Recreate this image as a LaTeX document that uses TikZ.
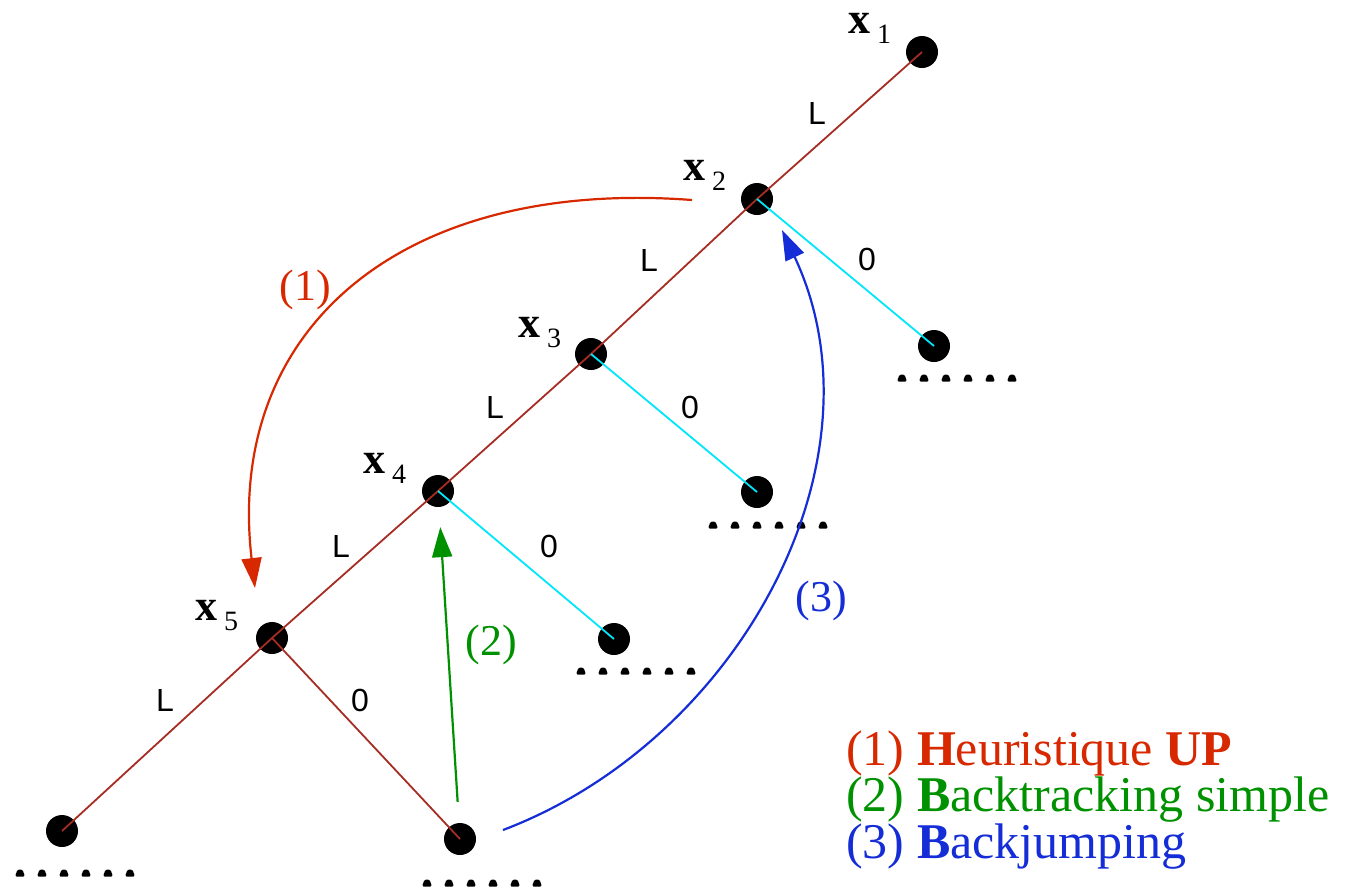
\documentclass[tikz,border=0pt]{standalone}
\usepackage{fontspec}
\setmainfont{Liberation Serif}
\newfontfamily\lblfont{Liberation Sans}
\usetikzlibrary{arrows.meta}
\definecolor{edgebrown}{RGB}{165,45,35}
\definecolor{edgecyan}{RGB}{0,230,250}
\definecolor{arrred}{RGB}{215,40,0}
\definecolor{arrgreen}{RGB}{0,145,0}
\definecolor{arrblue}{RGB}{20,45,215}
\newcommand{\varlab}[1]{\fontsize{44}{44}\selectfont\textbf{x}\hspace{7pt}\raisebox{-10pt}{\fontsize{28}{28}\selectfont #1}}
\begin{document}
\begin{tikzpicture}[x=1pt,y=-1pt,
  dot/.style={circle,fill=black,minimum size=32pt,inner sep=0pt},
  lline/.style={draw=edgebrown,line width=1.8pt},
  zline/.style={draw=edgecyan,line width=1.8pt},
  elab/.style={font=\lblfont\fontsize{32}{32}\selectfont,inner sep=0pt},
  vlab/.style={anchor=base west,inner sep=0pt},
  alab/.style={font=\fontsize{44}{44}\selectfont,inner sep=0pt},
  leg/.style={anchor=base west,inner sep=0pt,align=left,font=\fontsize{50}{42.5}\selectfont},
  arr/.style={line width=2.2pt,-{Triangle[length=30pt,width=20pt]}}]
\useasboundingbox (0,0) rectangle (1362,887);
\fill[white] (0,0) rectangle (1362,887);

% tree nodes
\node[dot] (n1) at (922,52) {};
\node[dot] (n2) at (757,199) {};
\node[dot] (n3) at (591,354) {};
\node[dot] (n4) at (438,491) {};
\node[dot] (n5) at (272,638) {};
\node[dot] (z2) at (934,346) {};
\node[dot] (z3) at (757,492) {};
\node[dot] (z4) at (614,639) {};
\node[dot] (z5) at (460,839) {};
\node[dot] (l5) at (62,831) {};

% edges
\draw[lline] (n1.center) -- (n2.center);
\draw[lline] (n2.center) -- (n3.center);
\draw[lline] (n3.center) -- (n4.center);
\draw[lline] (n4.center) -- (n5.center);
\draw[lline] (n5.center) -- (l5.center);
\draw[lline] (n5.center) -- (z5.center);
\draw[zline] (n2.center) -- (z2.center);
\draw[zline] (n3.center) -- (z3.center);
\draw[zline] (n4.center) -- (z4.center);

% dotted continuations
\foreach \px/\py in {20/873, 427/883, 581/671, 713/525, 902/378}{
  \foreach \i in {0,...,5}{
    \fill[rounded corners=1.5pt] ({\px+22*\i-5},{\py+3.5}) -- ({\px+22*\i+5},{\py+3.5}) -- ({\px+22*\i+2.5},{\py-3.5}) -- ({\px+22*\i-2.5},{\py-3.5}) -- cycle;
  }
}

% variable labels
\node[vlab] (t1) at (848,33) {\varlab{1}};
\node[vlab] (t2) at (683,180) {\varlab{2}};
\node[vlab] (t3) at (518,337) {\varlab{3}};
\node[vlab] (t4) at (363,473) {\varlab{4}};
\node[vlab] (t5) at (195,620) {\varlab{5}};

% edge labels
\node[elab] (e1) at (817,113) {L};
\node[elab] (e2) at (649,260) {L};
\node[elab] (e3) at (495,407) {L};
\node[elab] (e4) at (341,546) {L};
\node[elab] (e5) at (165,700) {L};
\node[elab] (o2) at (867,259) {0};
\node[elab] (o3) at (690,407) {0};
\node[elab] (o4) at (549,546) {0};
\node[elab] (o5) at (360,700) {0};

% arrows
\coordinate (r0) at (692,200);
\coordinate (r1) at (255,588);
\draw[arr,arrred] (r0) .. controls (400,178) and (225,330) .. (r1);
\node[alab,text=arrred] (a1) at (305,290) {(1)};

\draw[arr,arrgreen,shorten <=21pt,shorten >=20pt] (z5) -- (n4);
\node[alab,text=arrgreen] (a2) at (491,645) {(2)};

\coordinate (b0) at (503,830);
\coordinate (b1) at (782,230);
\draw[arr,arrblue] (b0) .. controls (740,740) and (890,460) .. (b1);
\node[alab,text=arrblue] (a3) at (821,601) {(3)};

% legend
\node[leg] (leg) at (846,858) {\textcolor{arrred}{(1) \textbf{H}euristique \textbf{UP}}\\
\textcolor{arrgreen}{(2) \textbf{B}acktracking simple}\\
\textcolor{arrblue}{(3) \textbf{B}ackjumping}};
\end{tikzpicture}
\end{document}
